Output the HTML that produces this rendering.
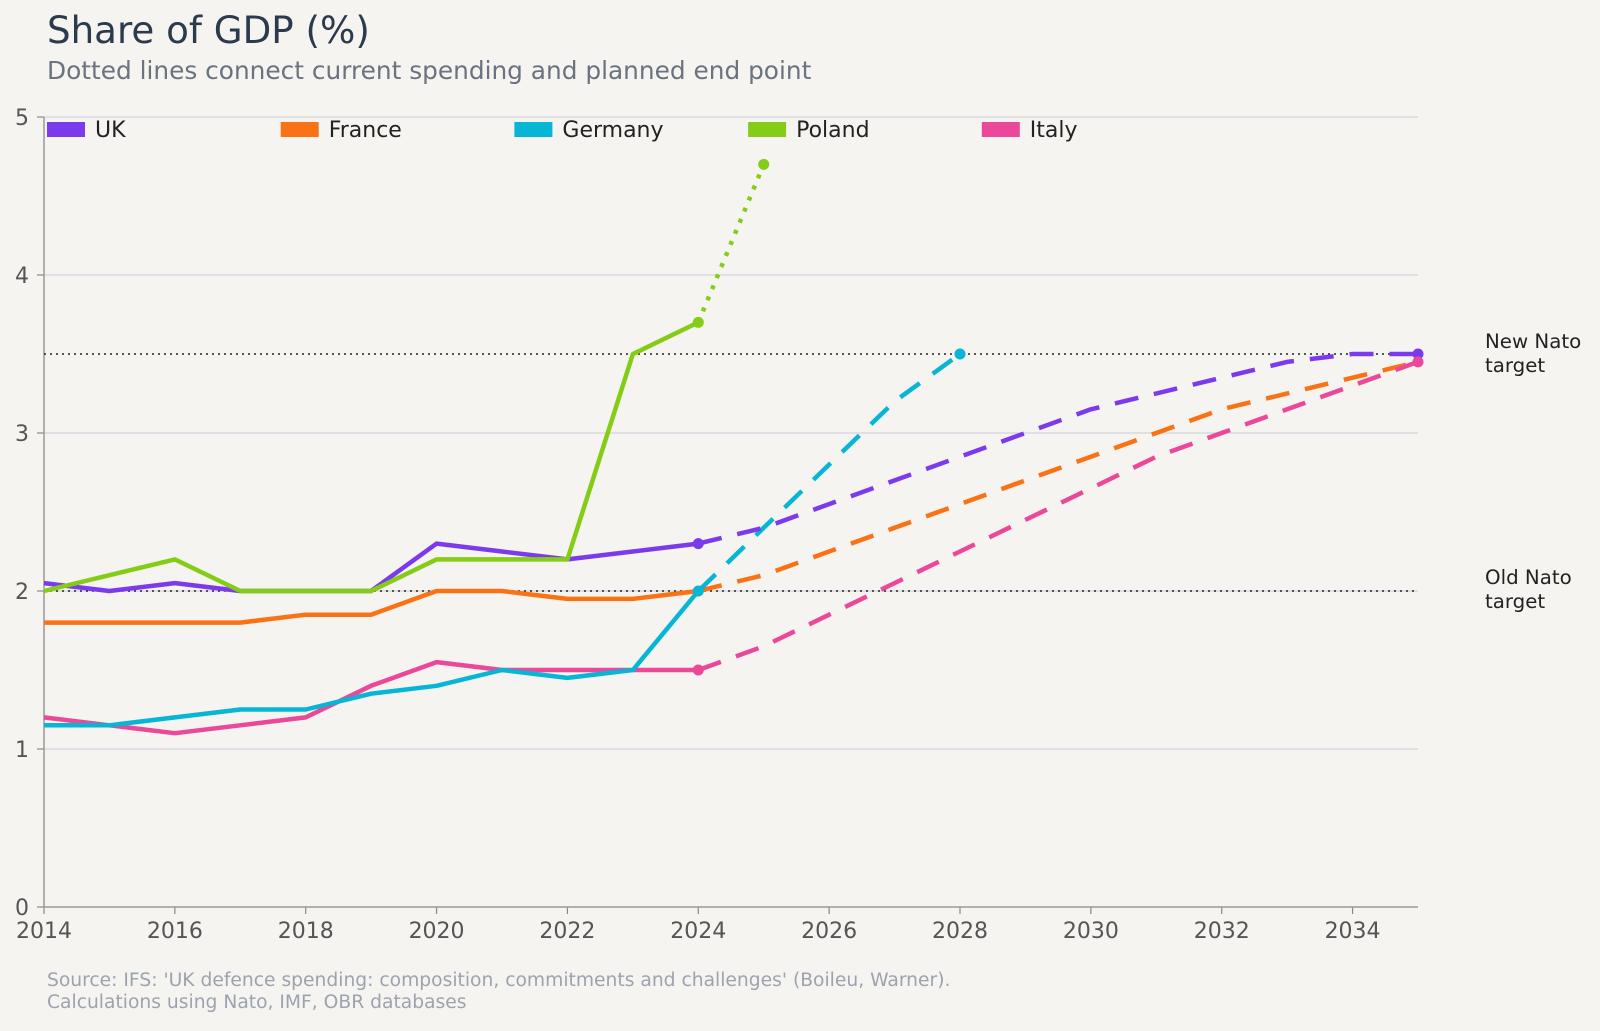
<!DOCTYPE html>
<html><head><meta charset="utf-8"><style>
body{margin:0;background:#f5f4f0;font-family:"DejaVu Sans","Liberation Sans",sans-serif}
svg text{font-family:"DejaVu Sans","Liberation Sans",sans-serif}
</style></head><body>
<svg id="c" width="1600" height="1027" viewBox="0 0 1600 1027">
<rect width="1600" height="1027" fill="#f5f4f0"/>
<text x="47" y="43" font-size="37.2" fill="#2c3a4d">Share of GDP (%)</text>
<text x="47" y="79" font-size="24.8" fill="#6b7280">Dotted lines connect current spending and planned end point</text>
<g id="grid"></g><g id="lines"></g><g id="legend"></g>
<text x="1485" y="348" font-size="19.8" fill="#222"><tspan x="1485">New Nato</tspan><tspan x="1485" dy="24">target</tspan></text>
<text x="1485" y="584" font-size="19.8" fill="#222"><tspan x="1485">Old Nato</tspan><tspan x="1485" dy="24">target</tspan></text>
<text x="47" y="986" font-size="18.7" fill="#9ca3af"><tspan x="47">Source: IFS: 'UK defence spending: composition, commitments and challenges' (Boileu, Warner).</tspan><tspan x="47" dy="22">Calculations using Nato, IMF, OBR databases</tspan></text>
</svg>
<script>
const years=[2014,2015,2016,2017,2018,2019,2020,2021,2022,2023,2024];
const ukHist=[2.05,2.0,2.05,2.0,2.0,2.0,2.3,2.25,2.2,2.25,2.3];
const frHist=[1.8,1.8,1.8,1.8,1.85,1.85,2.0,2.0,1.95,1.95,2.0];
const deHist=[1.15,1.15,1.2,1.25,1.25,1.35,1.4,1.5,1.45,1.5,2.0];
const plHist=[2.0,2.1,2.2,2.0,2.0,2.0,2.2,2.2,2.2,3.5,3.7];
const itHist=[1.2,1.15,1.1,1.15,1.2,1.4,1.55,1.5,1.5,1.5,1.5];
const projYears=[2024,2025,2026,2027,2028,2029,2030,2031,2032,2033,2034,2035];
const ukProj=[2.3,2.4,2.55,2.7,2.85,3.0,3.15,3.25,3.35,3.45,3.5,3.5];
const frProj=[2.0,2.1,2.25,2.4,2.55,2.7,2.85,3.0,3.15,3.25,3.35,3.45];
const itProj=[1.5,1.65,1.85,2.05,2.25,2.45,2.65,2.85,3.0,3.15,3.3,3.45];
const deProjYears=[2024,2025,2026,2027,2028];
const deProj=[2.0,2.4,2.8,3.2,3.5];
const plProjYears=[2024,2025];
const plProj=[3.7,4.7];
const yTicks=[0,1,2,3,4,5];
const xTicks=[2014,2016,2018,2020,2022,2024,2026,2028,2030,2032,2034];
const targets=[2,3.5];
const legendNames=['UK','France','Germany','Poland','Italy'];
const colors=['#7c3aed','#f97316','#06b6d4','#84cc16','#ec4899'];
const X=y=>44+(y-2014)*(1418-44)/21;
const Y=v=>907-v*(907-117)/5;
const NS='http://www.w3.org/2000/svg';
function mk(tag,attrs,parent){const e=document.createElementNS(NS,tag);for(const k in attrs)e.setAttribute(k,attrs[k]);parent.appendChild(e);return e;}
const grid=document.getElementById('grid'),lines=document.getElementById('lines'),leg=document.getElementById('legend');
yTicks.forEach(v=>{
 if(v>0){const l=mk('line',{x1:44,x2:1418,y1:Y(v),y2:Y(v),stroke:'#d4d4dc','stroke-width':1.2},grid);
 
 }
 const t=mk('text',{x:29,y:Y(v)+8,'font-size':22,fill:'#555','text-anchor':'end'},grid);t.textContent=v;
 
 
 mk('line',{x1:37,x2:44,y1:Y(v),y2:Y(v),stroke:'#888','stroke-width':1.2},grid);
});
xTicks.forEach(y=>{
 mk('line',{x1:X(y),x2:X(y),y1:907,y2:914,stroke:'#888','stroke-width':1.2},grid);
 const t=mk('text',{x:X(y),y:938,'font-size':22,fill:'#555','text-anchor':'middle'},grid);t.textContent=y;
 
 
});
const ax=mk('line',{x1:44,x2:44,y1:117,y2:907,stroke:'#999','stroke-width':1.5},grid);


const bx=mk('line',{x1:44,x2:1418,y1:907,y2:907,stroke:'#999','stroke-width':1.5},grid);


targets.forEach(v=>{const l=mk('line',{x1:44,x2:1418,y1:Y(v),y2:Y(v),stroke:'#222','stroke-width':1.6,'stroke-dasharray':'2,4'},grid);
 
 });
function path(xs,vs,color,dash,name){
 const d=xs.map((x,i)=>(i?'L':'M')+X(x).toFixed(1)+','+Y(vs[i]).toFixed(1)).join('');
 const p=mk('path',{d:d,fill:'none',stroke:color,'stroke-width':4.5,'stroke-linejoin':'round'},lines);
 if(dash)p.setAttribute('stroke-dasharray',dash);
 
 
}
function dot(x,v,color,name){const c=mk('circle',{cx:X(x),cy:Y(v),r:5.5,fill:color},lines);
 
 }
path(years,frHist,colors[1],null,'france-line');
path(projYears,frProj,colors[1],'24,16','france-projection');
path(years,itHist,colors[4],null,'italy-line');
path(projYears,itProj,colors[4],'24,16','italy-projection');
path(years,deHist,colors[2],null,'germany-line');
path(deProjYears,deProj,colors[2],'24,16','germany-projection');
path(years,ukHist,colors[0],null,'uk-line');
path(projYears,ukProj,colors[0],'24,16','uk-projection');
path(years,plHist,colors[3],null,'poland-line');
path(plProjYears,plProj,colors[3],'4,8','poland-projection');
dot(2024,ukHist[10],colors[0],'uk-2024-dot');
dot(2035,ukProj[11],colors[0],'uk-2035-dot');
dot(2024,deHist[10],colors[2],'germany-2024-dot');
dot(2028,deProj[4],colors[2],'germany-2028-dot');
dot(2024,itHist[10],colors[4],'italy-2024-dot');
dot(2035,itProj[11],colors[4],'italy-2035-dot');
dot(2024,plHist[10],colors[3],'poland-2024-dot');
dot(2025,plProj[1],colors[3],'poland-2025-dot');
legendNames.forEach((n,i)=>{
 const x=47+i*233.7;
 const g=mk('g',{},leg);
 
 
 mk('rect',{x:x,y:122,width:38,height:15,fill:colors[i]},g);
 const t=mk('text',{x:x+48,y:137,'font-size':22,fill:'#222'},g);t.textContent=n;
});
</script>
</body></html>
